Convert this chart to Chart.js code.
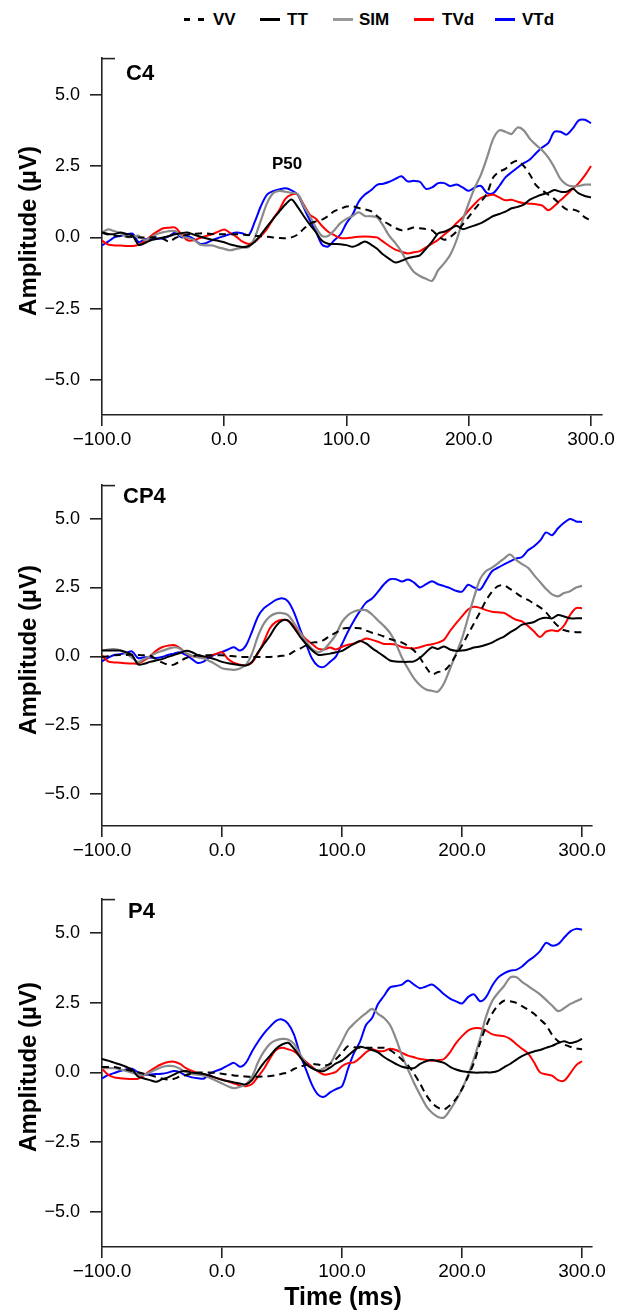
<!DOCTYPE html>
<html><head><meta charset="utf-8">
<script src="https://cdn.jsdelivr.net/npm/chart.js@4/dist/chart.umd.min.js"></script>
<style>
html,body{margin:0;padding:0;background:#fff;}
#wrap{position:relative;width:622px;height:1312px;overflow:hidden;font-family:"Liberation Sans",Arial,Helvetica,sans-serif;color:#000;}
canvas{position:absolute;left:0;}
.t{position:absolute;font-weight:bold;white-space:nowrap;line-height:1;}
.ylab{position:absolute;font-weight:bold;font-size:24px;line-height:1;white-space:nowrap;transform:translate(-50%,-50%) rotate(-90deg);}
.sw{position:absolute;height:3px;}
</style></head><body><div id="wrap">
<div class="sw" style="left:184px;top:18px;width:6px;background:#000"></div>
<div class="sw" style="left:198px;top:18px;width:6px;background:#000"></div>
<div class="t" style="left:213px;top:11px;font-size:17px">VV</div>
<div class="sw" style="left:260px;top:18px;width:20px;background:#000"></div>
<div class="t" style="left:287px;top:11px;font-size:17px">TT</div>
<div class="sw" style="left:333px;top:18px;width:20px;background:#999"></div>
<div class="t" style="left:359px;top:11px;font-size:17px">SIM</div>
<div class="sw" style="left:414px;top:18px;width:20px;background:#f00"></div>
<div class="t" style="left:442px;top:11px;font-size:17px">TVd</div>
<div class="sw" style="left:495px;top:18px;width:20px;background:#00f"></div>
<div class="t" style="left:522px;top:11px;font-size:17px">VTd</div>

<canvas id="c0" width="622" height="418" style="top:37px"></canvas>
<canvas id="c1" width="622" height="402" style="top:464px"></canvas>
<canvas id="c2" width="622" height="409" style="top:878px"></canvas>

<div class="t" style="left:126px;top:62px;font-size:22px">C4</div>
<div class="t" style="left:272px;top:155px;font-size:17px">P50</div>
<div class="t" style="left:123px;top:485px;font-size:22px">CP4</div>
<div class="t" style="left:128px;top:900px;font-size:22px">P4</div>
<div class="ylab" style="left:28px;top:231px">Amplitude (µV)</div>
<div class="ylab" style="left:28px;top:650px">Amplitude (µV)</div>
<div class="ylab" style="left:28px;top:1067px">Amplitude (µV)</div>
<div class="t" style="left:343px;top:1284px;font-size:25px;transform:translateX(-50%)">Time (ms)</div>
</div>
<script>
const times = [-100,-95,-90,-85,-80,-75,-70,-65,-60,-55,-50,-45,-40,-35,-30,-25,-20,-15,-10,-5,
0,5,10,15,20,25,30,35,40,45,50,55,60,65,70,75,80,85,90,95,
100,105,110,115,120,125,130,135,140,145,150,155,160,165,170,175,180,185,190,195,
200,205,210,215,220,225,230,235,240,245,250,255,260,265,270,275,280,285,290,295,300];

const seriesNames = ['VV','TT','SIM','TVd','VTd'];
const xTickValues = [-100,0,100,200,300];
const xTickLabels = ['\u2212100.0','0.0','100.0','200.0','300.0'];
const yTickValues = [-5,-2.5,0,2.5,5];
const yTickLabels = ['\u22125.0','\u22122.5','0.0','2.5','5.0'];

// ---- C4 ----
const c4_VV = [0.17,0.10,0.06,0.05,0.03,0.02,0.00,0.00,0.00,0.00,
-0.05,-0.15,-0.02,0.05,0.10,0.12,0.14,0.14,0.12,0.11,
0.11,0.11,0.11,0.10,0.08,0.06,0.04,0.02,0.00,-0.02,
-0.03,0.00,0.10,0.30,0.48,0.56,0.62,0.75,0.92,1.00,
1.08,1.09,1.03,0.98,0.92,0.75,0.58,0.45,0.33,0.25,
0.28,0.35,0.32,0.29,0.25,0.05,-0.08,0.02,0.20,0.45,
0.72,1.00,1.25,1.55,2.10,2.30,2.40,2.60,2.68,2.50,
2.20,1.83,1.65,1.50,1.35,1.15,0.98,0.98,0.90,0.70,
0.60];
const c4_TT = [0.17,0.12,0.11,0.17,0.12,0.06,-0.26,-0.20,-0.10,-0.05,
0.00,0.05,0.11,0.15,0.17,0.10,0.03,-0.03,-0.08,-0.12,
-0.17,-0.25,-0.30,-0.34,-0.30,-0.15,0.10,0.38,0.65,0.90,
1.15,1.33,1.07,0.75,0.45,0.18,-0.12,-0.22,-0.23,-0.24,
-0.27,-0.33,-0.25,-0.14,-0.25,-0.40,-0.60,-0.75,-0.88,-0.82,
-0.73,-0.68,-0.63,-0.40,-0.15,0.14,0.20,0.30,0.41,0.29,
0.35,0.42,0.50,0.62,0.75,0.82,0.90,1.02,1.07,1.15,
1.32,1.42,1.50,1.56,1.66,1.60,1.60,1.70,1.54,1.45,
1.40];
const c4_SIM = [0.17,0.28,0.22,0.15,0.02,0.02,0.06,-0.10,0.00,0.12,
0.18,0.22,0.22,0.05,-0.02,-0.08,-0.25,-0.28,-0.28,-0.35,
-0.40,-0.45,-0.40,-0.36,-0.34,0.00,0.60,1.20,1.55,1.63,
1.60,1.56,1.52,1.10,0.75,0.34,0.05,0.05,0.25,0.50,
0.65,0.75,0.88,0.75,0.74,0.70,0.41,0.05,-0.20,-0.50,
-0.90,-1.20,-1.35,-1.45,-1.52,-1.15,-0.90,-0.60,-0.10,0.60,
1.20,1.75,2.20,2.80,3.45,3.75,3.70,3.62,3.85,3.75,
3.45,3.24,3.05,2.80,2.45,2.05,1.85,1.79,1.80,1.85,
1.85];
const c4_TVd = [-0.11,-0.25,-0.28,-0.28,-0.30,-0.30,-0.26,-0.13,0.05,0.20,
0.32,0.34,0.34,0.10,-0.10,-0.10,-0.02,0.05,0.11,0.20,
0.28,0.15,0.02,-0.15,-0.23,-0.15,0.05,0.30,0.65,0.96,
1.35,1.50,1.50,1.15,0.80,0.65,0.40,0.20,0.08,-0.02,
-0.03,0.00,0.02,0.03,0.02,0.00,-0.15,-0.30,-0.43,-0.50,
-0.56,-0.52,-0.48,-0.35,-0.22,-0.08,0.10,0.28,0.50,0.70,
0.95,1.18,1.38,1.46,1.49,1.40,1.30,1.32,1.25,1.20,
1.18,1.16,1.12,0.95,1.10,1.30,1.49,1.70,1.90,2.17,
2.50];
const c4_VTd = [-0.28,-0.15,0.00,0.05,0.10,0.13,-0.17,-0.06,-0.06,-0.05,
-0.03,0.05,0.17,0.00,0.05,-0.05,-0.22,-0.20,-0.10,-0.02,
0.05,0.12,0.17,0.14,0.08,0.55,1.10,1.50,1.62,1.68,
1.72,1.65,1.50,1.05,0.60,0.20,-0.25,-0.32,-0.10,0.10,
0.50,0.80,1.25,1.50,1.65,1.84,1.88,1.95,2.05,2.14,
1.96,1.98,1.95,1.70,1.75,1.90,1.90,1.80,1.85,1.75,
1.63,1.75,1.80,1.55,1.55,1.80,2.10,2.28,2.45,2.60,
2.73,2.95,3.15,3.30,3.70,3.70,3.60,3.81,4.10,4.12,
4.00];

// ---- CP4 ----
const cp4_VV = [-0.02,0.00,0.04,0.05,0.05,0.06,0.05,0.04,0.03,-0.10,
-0.22,-0.30,-0.30,-0.18,-0.06,0.00,0.04,0.04,0.04,0.04,
0.04,0.02,0.00,-0.02,-0.02,-0.02,-0.02,-0.02,-0.02,-0.01,
0.02,0.05,0.18,0.28,0.40,0.50,0.52,0.60,0.75,0.86,
1.00,1.03,1.03,1.02,0.94,0.86,0.80,0.72,0.63,0.56,
0.50,0.38,0.21,-0.05,-0.40,-0.65,-0.57,-0.52,-0.30,0.05,
0.40,0.80,1.20,1.60,2.03,2.35,2.55,2.58,2.45,2.30,
2.15,2.05,1.91,1.78,1.60,1.33,1.10,0.95,0.90,0.88,
0.88];
const cp4_TT = [0.21,0.21,0.21,0.21,0.15,0.05,-0.29,-0.27,-0.20,-0.15,
-0.10,-0.02,0.05,0.12,0.20,0.15,0.04,0.00,-0.05,-0.12,
-0.20,-0.25,-0.29,-0.32,-0.33,-0.20,0.15,0.45,0.75,1.10,
1.30,1.30,1.03,0.72,0.45,0.22,0.06,0.07,0.10,0.15,
0.20,0.33,0.45,0.56,0.47,0.30,0.15,0.00,-0.15,-0.19,
-0.20,-0.20,-0.18,-0.05,0.15,0.33,0.27,0.36,0.25,0.20,
0.21,0.25,0.32,0.36,0.42,0.50,0.62,0.72,0.87,1.00,
1.15,1.20,1.25,1.36,1.40,1.38,1.50,1.45,1.38,1.38,
1.38];
const cp4_SIM = [0.21,0.25,0.26,0.22,0.10,-0.05,-0.20,-0.10,0.00,0.12,
0.20,0.27,0.33,0.28,0.12,0.02,-0.04,-0.08,-0.18,-0.30,
-0.43,-0.47,-0.49,-0.44,-0.30,0.10,0.74,1.20,1.45,1.56,
1.57,1.50,1.21,0.88,0.55,0.27,0.15,0.25,0.50,0.80,
1.25,1.50,1.63,1.68,1.68,1.52,1.30,1.10,0.85,0.45,
-0.05,-0.45,-0.80,-1.05,-1.20,-1.25,-1.28,-0.98,-0.45,0.10,
0.65,1.40,2.15,2.80,3.10,3.22,3.38,3.55,3.70,3.50,
3.35,3.22,2.95,2.70,2.45,2.25,2.18,2.30,2.36,2.50,
2.56];
const cp4_TVd = [0.04,-0.18,-0.22,-0.23,-0.25,-0.26,-0.26,-0.15,0.00,0.20,
0.33,0.39,0.41,0.30,0.12,0.00,-0.02,-0.02,0.03,0.09,
0.15,-0.10,-0.24,-0.30,-0.32,-0.22,0.10,0.55,1.03,1.25,
1.33,1.30,1.09,0.85,0.62,0.45,0.28,0.25,0.32,0.25,
0.35,0.42,0.47,0.55,0.65,0.60,0.53,0.45,0.45,0.42,
0.34,0.30,0.29,0.33,0.40,0.44,0.50,0.60,0.92,1.20,
1.45,1.70,1.80,1.76,1.68,1.62,1.60,1.58,1.45,1.33,
1.27,1.10,0.90,0.70,0.90,0.95,0.92,1.12,1.50,1.75,
1.75];
const cp4_VTd = [-0.18,-0.05,0.05,0.08,0.12,0.18,-0.06,-0.03,-0.04,-0.06,
-0.02,0.05,0.10,0.15,0.05,-0.10,-0.24,-0.18,-0.02,0.08,
0.16,0.25,0.33,0.21,0.40,0.90,1.45,1.75,1.91,2.05,
2.11,2.00,1.60,1.00,0.45,-0.08,-0.35,-0.38,-0.20,0.00,
0.45,0.90,1.30,1.65,1.95,2.10,2.35,2.62,2.80,2.80,
2.72,2.79,2.68,2.50,2.62,2.73,2.62,2.55,2.48,2.38,
2.35,2.60,2.50,2.42,2.75,3.09,3.22,3.34,3.45,3.55,
3.61,3.85,4.00,4.20,4.50,4.40,4.65,4.85,4.99,4.90,
4.88];

// ---- P4 ----
const p4_VV = [0.19,0.19,0.19,0.15,0.10,0.05,0.00,-0.05,-0.10,-0.16,
-0.22,-0.26,-0.23,-0.15,-0.10,-0.04,-0.01,-0.01,-0.01,-0.02,
-0.05,-0.08,-0.11,-0.13,-0.15,-0.16,-0.16,-0.15,-0.13,-0.10,
-0.05,0.00,0.12,0.20,0.26,0.30,0.28,0.24,0.30,0.48,
0.70,0.94,0.90,0.88,0.88,0.88,0.88,0.88,0.80,0.65,
0.45,0.25,-0.05,-0.40,-0.80,-1.10,-1.27,-1.33,-1.18,-0.95,
-0.60,-0.15,0.35,1.05,1.65,2.10,2.40,2.57,2.55,2.50,
2.38,2.25,2.10,1.90,1.70,1.35,1.12,1.00,0.92,0.86,
0.83];
const p4_TT = [0.48,0.42,0.35,0.28,0.20,0.10,-0.15,-0.22,-0.28,-0.34,
-0.25,-0.18,-0.08,0.02,0.05,-0.01,-0.03,-0.06,-0.12,-0.20,
-0.27,-0.32,-0.36,-0.40,-0.43,-0.28,0.05,0.35,0.59,0.85,
1.00,1.06,0.85,0.55,0.30,0.15,0.06,0.05,0.17,0.32,
0.42,0.60,0.78,0.92,0.87,0.80,0.72,0.55,0.42,0.30,
0.20,0.16,0.15,0.30,0.40,0.44,0.40,0.34,0.20,0.10,
0.04,0.01,-0.01,-0.01,0.00,0.00,0.05,0.18,0.30,0.45,
0.58,0.68,0.75,0.80,0.88,0.95,1.05,1.12,1.05,1.10,
1.20];
const p4_SIM = [0.15,0.15,0.15,0.11,0.05,-0.01,-0.08,-0.10,0.00,0.10,
0.19,0.23,0.22,0.13,0.00,-0.06,-0.08,-0.12,-0.20,-0.30,
-0.40,-0.50,-0.57,-0.52,-0.43,-0.16,0.36,0.75,1.02,1.15,
1.20,1.18,1.02,0.65,0.33,0.15,0.07,0.15,0.30,0.70,
1.10,1.52,1.75,1.95,2.12,2.28,2.10,1.95,1.70,1.20,
0.60,0.10,-0.38,-0.80,-1.20,-1.45,-1.60,-1.62,-1.35,-1.00,
-0.60,-0.10,0.50,1.20,2.00,2.55,2.85,3.10,3.40,3.42,
3.25,3.10,2.95,2.80,2.60,2.40,2.20,2.30,2.45,2.55,
2.65];
const p4_TVd = [0.13,-0.08,-0.18,-0.21,-0.23,-0.24,-0.23,-0.10,0.05,0.19,
0.30,0.37,0.38,0.30,0.15,0.05,-0.03,-0.07,-0.12,-0.20,
-0.26,-0.32,-0.40,-0.47,-0.50,-0.42,-0.15,0.13,0.50,0.80,
0.88,0.83,0.75,0.58,0.38,0.20,0.03,-0.08,-0.05,0.02,
0.22,0.33,0.36,0.52,0.72,0.83,0.77,0.77,0.85,0.80,
0.70,0.60,0.54,0.48,0.45,0.42,0.44,0.48,0.72,1.05,
1.30,1.50,1.58,1.58,1.50,1.37,1.32,1.30,1.20,1.02,
0.85,0.68,0.36,0.00,-0.07,-0.12,-0.28,-0.30,-0.05,0.25,
0.40];
const p4_VTd = [-0.22,-0.10,-0.03,0.05,0.10,0.13,0.00,-0.08,-0.08,-0.06,
-0.05,-0.01,0.05,0.00,-0.12,-0.18,-0.21,-0.22,-0.05,0.05,
0.13,0.25,0.34,0.20,0.35,0.75,1.10,1.40,1.64,1.85,
1.90,1.75,1.35,0.65,0.10,-0.45,-0.80,-0.88,-0.72,-0.60,
-0.50,0.13,0.70,1.10,1.70,1.95,2.45,2.75,3.05,3.10,
3.15,3.30,3.15,3.02,3.08,3.15,3.00,2.80,2.65,2.55,
2.47,2.70,2.80,2.55,2.70,3.10,3.40,3.55,3.65,3.68,
3.80,4.00,4.15,4.35,4.65,4.55,4.60,4.83,5.05,5.15,
5.12];

const seriesStyle = [
  {color:'#000000', dash:[7,5], width:2},
  {color:'#000000', dash:[], width:2},
  {color:'#8a8a8a', dash:[], width:2.2},
  {color:'#ff0000', dash:[], width:2},
  {color:'#0000ff', dash:[], width:2}
];

const panels = [
  {id:'c0', series:[c4_VV,c4_TT,c4_SIM,c4_TVd,c4_VTd], xMin:-100, xMax:309, yMin:-6.22, yMax:6.29, padRight:20},
  {id:'c1', series:[cp4_VV,cp4_TT,cp4_SIM,cp4_TVd,cp4_VTd], xMin:-100, xMax:308.3, yMin:-6.16, yMax:6.23, padRight:30},
  {id:'c2', series:[p4_VV,p4_TT,p4_SIM,p4_TVd,p4_VTd], xMin:-100, xMax:308.3, yMin:-6.27, yMax:6.23, padRight:30}
];

const axisColor = '#222';
const stubPlugin = {
  id:'stub',
  afterDraw(chart){
    const a = chart.chartArea, ctx = chart.ctx;
    ctx.save();
    ctx.strokeStyle = axisColor; ctx.lineWidth = 1.6;
    ctx.beginPath(); ctx.moveTo(a.left, a.top + 0.8); ctx.lineTo(a.left + 13, a.top + 0.8); ctx.stroke();
    ctx.restore();
  }
};

panels.forEach(p => {
  const datasets = p.series.map((vals, i) => ({
    label: seriesNames[i],
    data: vals.map((v, k) => ({x: times[k], y: v})),
    borderColor: seriesStyle[i].color,
    borderDash: seriesStyle[i].dash,
    borderWidth: seriesStyle[i].width,
    pointRadius: 0,
    tension: 0.3,
    fill: false
  }));
  new Chart(document.getElementById(p.id), {
    type: 'line',
    data: {datasets},
    plugins: [stubPlugin],
    options: {
      responsive: false, animation: false, devicePixelRatio: 1,
      layout: {padding: {top: 10, right: p.padRight, left: 0, bottom: 0}},
      plugins: {legend: {display: false}, tooltip: {enabled: false}},
      scales: {
        x: {
          type: 'linear', min: p.xMin, max: p.xMax,
          afterBuildTicks: s => { s.ticks = xTickValues.map(v => ({value: v})); },
          afterFit: s => { s.height = 40; },
          ticks: {
            autoSkip: false, maxRotation: 0, padding: 2, color: '#000',
            font: {family: '"Liberation Sans", Arial, sans-serif', size: 19},
            callback: v => xTickLabels[xTickValues.indexOf(v)]
          },
          grid: {drawOnChartArea: false, drawTicks: true, tickLength: 11, color: axisColor, lineWidth: 1.6},
          border: {color: axisColor, width: 1.6}
        },
        y: {
          type: 'linear', min: p.yMin, max: p.yMax,
          afterBuildTicks: s => { s.ticks = yTickValues.map(v => ({value: v})); },
          afterFit: s => { s.width = 102; },
          ticks: {
            padding: 10, color: '#000',
            font: {family: '"Liberation Sans", Arial, sans-serif', size: 18},
            callback: v => yTickLabels[yTickValues.indexOf(v)]
          },
          grid: {drawOnChartArea: false, drawTicks: true, tickLength: 12, color: axisColor, lineWidth: 1.6},
          border: {color: axisColor, width: 1.6}
        }
      }
    }
  });
});
</script>
</body></html>
